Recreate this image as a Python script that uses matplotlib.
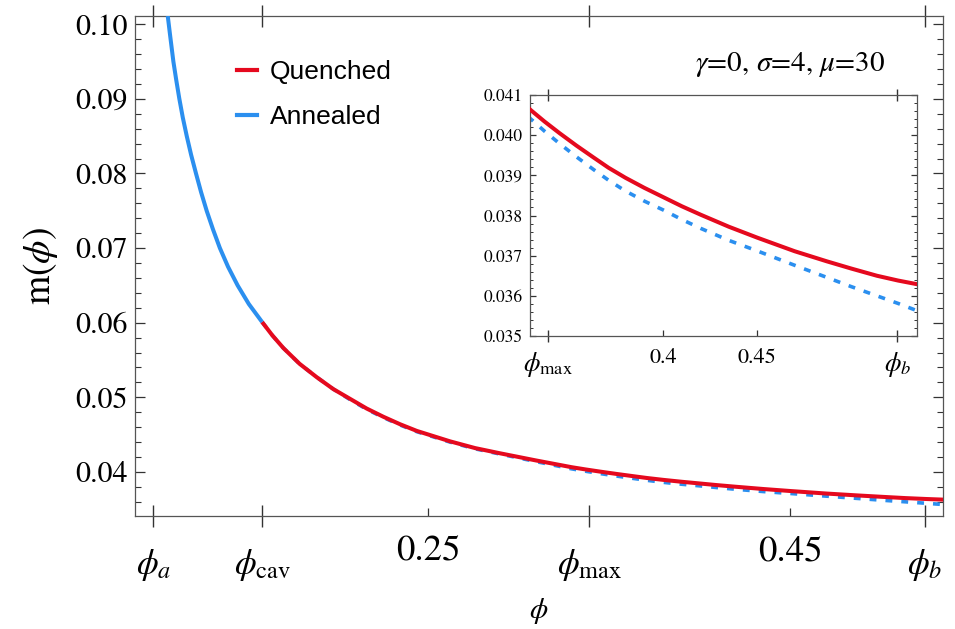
import matplotlib
matplotlib.use("Agg")
import matplotlib.pyplot as plt
from matplotlib.ticker import FixedLocator, FixedFormatter, MultipleLocator, FormatStrFormatter
from matplotlib.lines import Line2D

plt.rcParams['mathtext.fontset'] = 'stix'
plt.rcParams['font.family'] = ['STIXGeneral', 'DejaVu Sans']

# ---------------- data ----------------
phi_a, phi_cav, phi_max, phi_b = 0.0983, 0.1583, 0.339, 0.5245

# annealed, solid part (phi_a .. phi_cav)
ann_solid_phi = [0.1062, 0.1075, 0.1093, 0.1109, 0.1126, 0.1145, 0.1167, 0.1191, 0.1218,
                 0.1246, 0.1277, 0.1312, 0.1350, 0.1395, 0.1448, 0.1510, 0.1583]
ann_solid_m = [0.1011, 0.0985, 0.0950, 0.0925, 0.0900, 0.0875, 0.0850, 0.0825, 0.0800,
               0.0775, 0.0750, 0.0725, 0.0700, 0.0675, 0.0650, 0.0625, 0.0601]

# quenched (phi_cav .. end)
q_phi = [0.1583, 0.1640, 0.1701, 0.1790, 0.1885, 0.1977, 0.2069, 0.2161, 0.2253, 0.2345,
         0.2438, 0.2530, 0.2622, 0.2760, 0.2898, 0.3095, 0.3293, 0.337, 0.345, 0.354,
         0.3629, 0.371, 0.380, 0.390, 0.400, 0.410, 0.420, 0.435, 0.450, 0.460,
         0.470, 0.487, 0.500, 0.5137, 0.525, 0.535]
q_m = [0.0601, 0.0583, 0.0566, 0.0545, 0.0527, 0.0511, 0.0498, 0.0485, 0.0474, 0.0464,
       0.0455, 0.0448, 0.0441, 0.0432, 0.0425, 0.04155, 0.04064, 0.04034, 0.04005, 0.03974,
       0.03945, 0.03919, 0.03894, 0.03869, 0.03846, 0.03823, 0.03802, 0.03772, 0.03745, 0.03728,
       0.03711, 0.03686, 0.03668, 0.03650, 0.03638, 0.03629]

# annealed, dashed part (phi_cav .. end)
ad_phi = q_phi
ad_m = [0.0601, 0.0583, 0.0566, 0.0545, 0.0527, 0.0511, 0.0497, 0.0484, 0.0473, 0.0463,
        0.0454, 0.0447, 0.0440, 0.0431, 0.0424, 0.04140, 0.04042, 0.04010, 0.03979, 0.03946,
        0.03915, 0.03888, 0.03861, 0.03836, 0.03814, 0.03790, 0.03768, 0.03738, 0.03712, 0.03694,
        0.03676, 0.03646, 0.03623, 0.03600, 0.03581, 0.03563]

main_sym_ticks = [phi_a, phi_cav, phi_max, phi_b]
main_sym_labels = [r'$\phi_a$', r'$\phi_{\rm cav}$', r'$\phi_{\rm max}$', r'$\phi_b$']
main_num_ticks = [0.25, 0.45]
main_num_labels = ['0.25', '0.45']
main_yticks = [0.04, 0.05, 0.06, 0.07, 0.08, 0.09, 0.10]

inset_sym_ticks = [phi_max, phi_b]
inset_sym_labels = [r'$\phi_{\rm max}$', r'$\phi_b$']
inset_num_ticks = [0.40, 0.45]
inset_num_labels = ['0.4', '0.45']
inset_yticks = [0.035, 0.036, 0.037, 0.038, 0.039, 0.040, 0.041]

legend_labels = ['Quenched', 'Annealed']
param_text = r'$\gamma$=0, $\sigma$=4, $\mu$=30'

RED = '#e5091e'
BLUE = '#2b8fef'
SPINE = '#555555'
TICK = '#333333'
DASH = (1.9, 2.5)

# ---------------- figure ----------------
fig = plt.figure(figsize=(9.55, 6.29), dpi=100)
W, H = 955, 629
ax = fig.add_axes([135 / W, 1 - 516 / H, 808 / W, 500 / H])

ax.plot(ad_phi, ad_m, color=BLUE, lw=2.6, dashes=DASH, dash_capstyle='butt', zorder=2)
ax.plot(q_phi, q_m, color=RED, lw=2.9, solid_capstyle='butt', solid_joinstyle='round', zorder=3)
ax.plot(ann_solid_phi, ann_solid_m, color=BLUE, lw=2.9, solid_capstyle='butt',
        solid_joinstyle='round', zorder=3)

ax.set_xlim(0.0881, 0.5345)
ax.set_ylim(0.0341, 0.1011)

for s in ax.spines.values():
    s.set_color(SPINE)
    s.set_linewidth(0.9)

ax.xaxis.set_major_locator(FixedLocator(main_sym_ticks))
ax.xaxis.set_major_formatter(FixedFormatter(main_sym_labels))
ax.xaxis.set_minor_locator(FixedLocator(main_num_ticks))
ax.xaxis.set_minor_formatter(FixedFormatter(main_num_labels))
ax.tick_params(axis='x', which='major', direction='inout', length=16, width=1.0,
               color=TICK, top=True, labelsize=25, pad=14)
ax.tick_params(axis='x', which='minor', direction='in', length=6, width=0.9,
               color=TICK, top=False, labelsize=26.5, pad=14)

ax.yaxis.set_major_locator(FixedLocator(main_yticks))
ax.yaxis.set_major_formatter(FormatStrFormatter('%.2f'))
ax.yaxis.set_minor_locator(MultipleLocator(0.002))
ax.tick_params(axis='y', which='major', direction='in', length=7.5, width=0.9,
               color=TICK, right=True, labelsize=21.5, pad=5.5)
ax.tick_params(axis='y', which='minor', direction='in', length=4, width=0.8,
               color=TICK, right=True)

ax.set_xlabel(r'$\phi$', fontsize=21, va='center')
ax.xaxis.set_label_coords(0.5, -0.19)
ax.set_ylabel(r'$\mathrm{m}(\phi)$', fontsize=27)
ax.yaxis.set_label_coords(-0.093, 0.5)

handles = [Line2D([], [], color=RED, lw=3), Line2D([], [], color=BLUE, lw=3)]
ax.legend(handles, legend_labels, loc='upper left', bbox_to_anchor=(0.126, 0.912),
          frameon=False, prop={'family': 'Liberation Sans', 'size': 19},
          handlelength=0.76, handletextpad=0.49, labelspacing=0.8, borderpad=0,
          borderaxespad=0)

ax.text(0.8106, 0.903, param_text, transform=ax.transAxes, fontsize=21,
        ha='center', va='center')

# ---------------- inset ----------------
ins = fig.add_axes([530 / W, 1 - 336 / H, 387 / W, 241 / H])
ins.plot(ad_phi, ad_m, color=BLUE, lw=2.6, dashes=DASH, dash_capstyle='butt', zorder=2)
ins.plot(q_phi, q_m, color=RED, lw=2.9, solid_joinstyle='round', zorder=3)
ins.set_xlim(0.3293, 0.535)
ins.set_ylim(0.035, 0.041)
for s in ins.spines.values():
    s.set_color(SPINE)
    s.set_linewidth(0.9)

ins.xaxis.set_major_locator(FixedLocator(inset_sym_ticks))
ins.xaxis.set_major_formatter(FixedFormatter(inset_sym_labels))
ins.xaxis.set_minor_locator(FixedLocator(inset_num_ticks))
ins.xaxis.set_minor_formatter(FixedFormatter(inset_num_labels))
ins.tick_params(axis='x', which='major', direction='inout', length=8, width=1.0,
                color=TICK, top=True, labelsize=19, pad=6)
ins.tick_params(axis='x', which='minor', direction='in', length=4, width=0.9,
                color=TICK, top=False, labelsize=16, pad=9)
ins.yaxis.set_major_locator(FixedLocator(inset_yticks))
ins.yaxis.set_major_formatter(FormatStrFormatter('%.3f'))
ins.yaxis.set_minor_locator(MultipleLocator(0.0002))
ins.tick_params(axis='y', which='major', direction='in', length=4, width=0.9,
                color=TICK, right=True, labelsize=12.5, pad=5.5)
ins.tick_params(axis='y', which='minor', direction='in', length=2.5, width=0.7,
                color=TICK, right=True)

fig.savefig('out.png', dpi=100, facecolor='white')
